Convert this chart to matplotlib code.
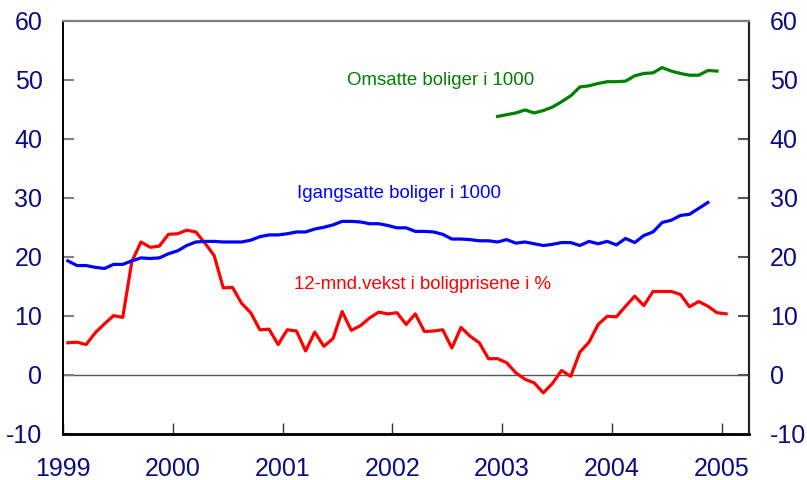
import matplotlib
matplotlib.use("Agg")
import matplotlib.pyplot as plt
import numpy as np

plt.rcParams['font.family'] = ['Liberation Sans', 'DejaVu Sans']

# Monthly data
# 12-month growth in house prices (%), Jan 1999 - Jan 2005
price_growth = [
    5.4, 5.5, 5.1, 7.1, 8.6, 10.0, 9.7, 19.2, 22.5, 21.6, 21.8, 23.8,
    23.9, 24.5, 24.2, 22.3, 20.2, 14.7, 14.8, 12.1, 10.5, 7.6, 7.7, 5.1,
    7.6, 7.4, 4.0, 7.2, 4.8, 6.1, 10.7, 7.5, 8.3, 9.6, 10.6, 10.3,
    10.5, 8.5, 10.3, 7.3, 7.4, 7.6, 4.5, 8.0, 6.5, 5.4, 2.7, 2.7,
    2.0, 0.3, -0.8, -1.4, -3.1, -1.5, 0.7, -0.3, 3.8, 5.5, 8.5, 9.9,
    9.8, 11.6, 13.3, 11.7, 14.1, 14.1, 14.1, 13.6, 11.5, 12.4, 11.6, 10.5,
    10.3,
]
price_start = (1999, 1)

# Housing starts (1000), Jan 1999 - Nov 2004
housing_starts = [
    19.3, 18.5, 18.5, 18.2, 18.0, 18.7, 18.7, 19.3, 19.8, 19.7, 19.8, 20.5,
    21.0, 21.9, 22.5, 22.6, 22.6, 22.5, 22.5, 22.5, 22.8, 23.4, 23.7, 23.7,
    23.9, 24.2, 24.2, 24.7, 25.0, 25.4, 26.0, 26.0, 25.9, 25.6, 25.6, 25.3,
    24.9, 24.9, 24.3, 24.3, 24.2, 23.8, 23.0, 23.0, 22.9, 22.7, 22.7, 22.5,
    22.9, 22.3, 22.5, 22.2, 21.9, 22.1, 22.4, 22.4, 21.9, 22.6, 22.2, 22.6,
    22.0, 23.1, 22.4, 23.6, 24.2, 25.8, 26.2, 27.0, 27.2, 28.2, 29.2,
]
starts_start = (1999, 1)

# Dwellings sold (1000), Dec 2002 - Dec 2004
dwellings_sold = [
    43.8, 44.1, 44.4, 44.9, 44.4, 44.8, 45.4, 46.3, 47.3, 48.8, 49.0, 49.4,
    49.7, 49.7, 49.8, 50.7, 51.1, 51.2, 52.1, 51.5, 51.1, 50.8, 50.8, 51.6,
    51.5,
]
sold_start = (2002, 12)

year_ticks = [1999, 2000, 2001, 2002, 2003, 2004, 2005]
y_ticks = [-10, 0, 10, 20, 30, 40, 50, 60]

label_sold = "Omsatte boliger i 1000"
label_starts = "Igangsatte boliger i 1000"
label_prices = "12-mnd.vekst i boligprisene i %"


def month_positions(start, n):
    y0, m0 = start
    idx = np.arange(n) + (m0 - 1)
    return y0 + (idx + 0.5) / 12.0


navy = '#0c0c80'
fig = plt.figure(figsize=(8.07, 4.80), dpi=100)
ax = fig.add_axes([63.3 / 807, 1 - 433.5 / 480, (749 - 63.3) / 807, (433.5 - 21) / 480])

ax.axhline(0, color='#555555', lw=1.0, zorder=1)

ax.plot(month_positions(price_start, len(price_growth)), price_growth,
        color='#ff0000', lw=2.3, zorder=3, solid_joinstyle='round')
ax.plot(month_positions(starts_start, len(housing_starts)), housing_starts,
        color='#0000ff', lw=2.3, zorder=3, solid_joinstyle='round')
ax.plot(month_positions(sold_start, len(dwellings_sold)), dwellings_sold,
        color='#008000', lw=2.3, zorder=3, solid_joinstyle='round')

ax.set_xlim(1999, 2005.25)
ax.set_ylim(-10, 60)

ax.text(2002.44, 49.9, label_sold, color='#008000', fontsize=13.4, ha='center', va='center')
ax.text(2002.06, 30.8, label_starts, color='#0000ff', fontsize=13.4, ha='center', va='center')
ax.text(2002.27, 15.3, label_prices, color='#ff0000', fontsize=13.4, ha='center', va='center')

ax.set_xticks(year_ticks)
ax.set_xticklabels([str(y) for y in year_ticks])
ax.set_yticks(y_ticks)
ax.set_yticklabels([str(v) for v in y_ticks])

ax.tick_params(axis='x', direction='in', length=8, width=1, color='#333333',
               labelsize=18, labelcolor=navy, pad=17)
ax.tick_params(axis='y', direction='in', length=8, width=1.5, color='#808080',
               labelsize=18, labelcolor=navy, pad=15, left=True, right=False)

ax2 = ax.twinx()
ax2.set_ylim(-10, 60)
ax2.set_yticks(y_ticks)
ax2.set_yticklabels([str(v) for v in y_ticks])
ax2.tick_params(axis='y', direction='in', length=8, width=1.5, color='#555555',
                labelsize=18, labelcolor=navy, pad=15)

for a in (ax, ax2):
    a.spines['top'].set_color('#808080')
    a.spines['top'].set_linewidth(1.5)
    a.spines['left'].set_color('black')
    a.spines['left'].set_linewidth(1.2)
    a.spines['right'].set_color('#222222')
    a.spines['right'].set_linewidth(1.5)
    a.spines['bottom'].set_color('black')
    a.spines['bottom'].set_linewidth(1.8)

fig.savefig('out.png', dpi=100)
